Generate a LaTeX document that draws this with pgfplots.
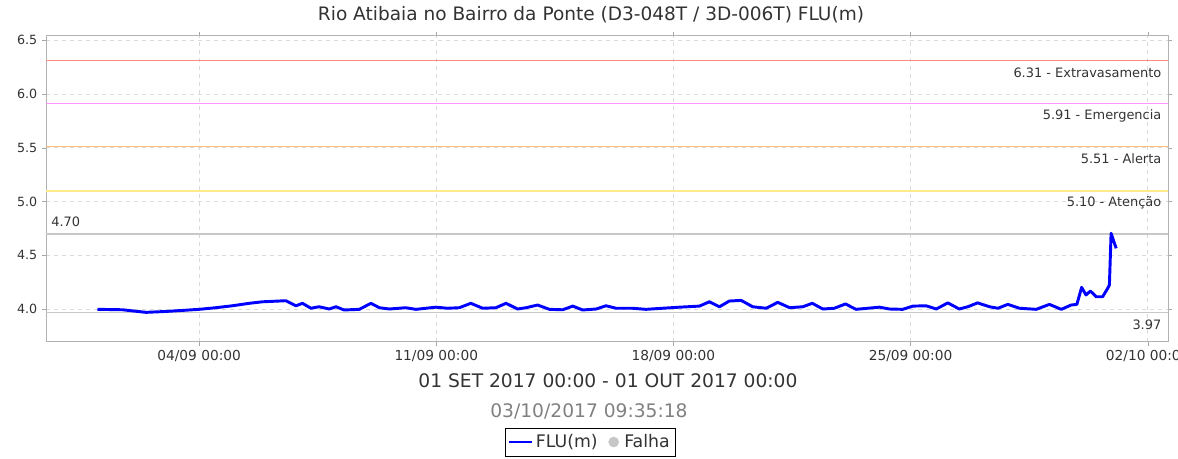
\documentclass[border=0pt]{standalone}
\usepackage{fontspec}
\setmainfont{DejaVu Sans}
\usepackage{pgfplots}
\pgfplotsset{compat=1.18}
\definecolor{lnred}{RGB}{255,140,140}
\definecolor{lnpink}{RGB}{255,150,255}
\definecolor{lnora}{RGB}{255,190,120}
\definecolor{lnyel}{RGB}{255,235,140}
\definecolor{lngray}{RGB}{200,200,200}
\definecolor{txt}{RGB}{51,51,51}
\begin{document}
\begin{tikzpicture}
% whole picture: 1178 x 459 px at 0.75pt per px
\path[use as bounding box] (0,0) rectangle (883.5pt,344.25pt);
\begin{axis}[
    at={(34.5pt,88pt)}, anchor=south west,
    scale only axis,
    width=841.5pt, height=229.5pt,
    xmin=-1.52, xmax=31.6,
    ymin=3.70, ymax=6.54,
    xtick={3,10,17,24,31},
    xticklabels={04/09 00:00,11/09 00:00,18/09 00:00,25/09 00:00,02/10 00:00},
    ytick={4.0,4.5,5.0,5.5,6.0,6.5},
    yticklabel style={/pgf/number format/.cd, fixed, fixed zerofill, precision=1},
    /pgf/number format/assume math mode=true,
    tick label style={font=\fontsize{9.5}{11}\selectfont, text=txt},
    xticklabel style={font=\fontsize{10.3}{12}\selectfont},
    tick align=outside,
    major tick length=3pt,
    tick style={gray!70},
    axis line style={gray!60},
    grid=major,
    grid style={dashed, gray!30},
    legend columns=2,
    legend style={at={(0.4848,-0.328)}, anchor=center, draw=black,
        font=\fontsize{13}{15}\selectfont, text=txt, inner ysep=3pt, inner xsep=2pt,
        /tikz/column 2/.style={column sep=6pt}},
    legend cell align=left,
    clip=false,
]
% threshold lines
\addplot[draw=lnred, line width=1.2pt, forget plot] coordinates {(-1.52,6.31) (31.6,6.31)};
\addplot[draw=lnpink, line width=1.2pt, forget plot] coordinates {(-1.52,5.91) (31.6,5.91)};
\addplot[draw=lnora, line width=1.2pt, forget plot] coordinates {(-1.52,5.51) (31.6,5.51)};
\addplot[draw=lnyel, line width=1.2pt, forget plot] coordinates {(-1.52,5.10) (31.6,5.10)};
\addplot[draw=lngray, line width=1.2pt, forget plot] coordinates {(-1.52,4.70) (31.6,4.70)};
\addplot[draw=lngray, line width=1.2pt, forget plot] coordinates {(-1.52,3.97) (31.6,3.97)};

% FLU(m), days since 01/09/2017 00:00
\addplot[blue, line width=2.2pt, line join=round] coordinates {
(0.00,4.00) (0.74,3.996) (1.43,3.972) (2.0,3.98) (2.51,3.99) (3.0,4.00)
(3.49,4.015) (3.98,4.033) (4.48,4.056) (4.87,4.07) (5.56,4.08) (5.86,4.033)
(6.05,4.056) (6.30,4.01) (6.54,4.024) (6.84,4.003) (7.04,4.024) (7.28,3.994)
(7.73,4.00) (8.07,4.056) (8.32,4.015) (8.61,4.003) (9.1,4.015) (9.4,4.00)
(9.99,4.02) (10.33,4.01) (10.68,4.015) (11.02,4.056) (11.37,4.01) (11.76,4.015)
(12.06,4.056) (12.4,4.003) (12.65,4.015) (12.99,4.04) (13.34,4.00) (13.73,3.996)
(14.03,4.03) (14.32,3.994) (14.72,4.003) (15.01,4.033) (15.31,4.01) (15.8,4.01)
(16.19,4.00) (16.68,4.01) (17.18,4.02) (17.77,4.03) (18.06,4.07) (18.36,4.024)
(18.65,4.077) (19.0,4.083) (19.34,4.024) (19.74,4.01) (20.08,4.065) (20.43,4.015)
(20.82,4.024) (21.1,4.056) (21.41,4.003) (21.75,4.01) (22.08,4.05) (22.39,4.00)
(23.08,4.02) (23.38,4.003) (23.77,4.00) (24.07,4.03) (24.46,4.033) (24.76,4.003)
(25.1,4.06) (25.44,4.003) (25.69,4.024) (25.98,4.06) (26.33,4.024) (26.58,4.01)
(26.87,4.046) (27.22,4.01) (27.71,4.00) (28.1,4.046) (28.45,4.00) (28.74,4.04)
(28.91,4.046) (29.05,4.204) (29.18,4.133) (29.31,4.17) (29.48,4.117) (29.67,4.117)
(29.82,4.195) (29.87,4.226) (29.92,4.706) (29.99,4.64) (30.07,4.566)
};
\addlegendentry{FLU(m)}
\addlegendimage{legend image code/.code={\path[draw=none] (0pt,0pt) -- (10pt,0pt); \fill[gray!45] (4pt,0pt) circle (3.75pt);}}
\addlegendentry{Falha}

% threshold labels
\node[anchor=east, inner sep=0pt, font=\fontsize{9.7}{11}\selectfont, text=txt] at (axis cs:31.41,6.197) {6.31 - Extravasamento};
\node[anchor=east, inner sep=0pt, font=\fontsize{9.7}{11}\selectfont, text=txt] at (axis cs:31.41,5.797) {5.91 - Emergencia};
\node[anchor=east, inner sep=0pt, font=\fontsize{9.7}{11}\selectfont, text=txt] at (axis cs:31.41,5.397) {5.51 - Alerta};
\node[anchor=east, inner sep=0pt, font=\fontsize{9.7}{11}\selectfont, text=txt] at (axis cs:31.41,4.987) {5.10 - Atenção};
\node[anchor=west, inner sep=0pt, font=\fontsize{9.7}{11}\selectfont, text=txt] at (axis cs:-1.37,4.813) {4.70};
\node[anchor=east, inner sep=0pt, font=\fontsize{9.7}{11}\selectfont, text=txt] at (axis cs:31.41,3.857) {3.97};
\end{axis}
\node[font=\fontsize{13.9}{16}\selectfont, text=txt] at (443.25pt,333pt) {Rio Atibaia no Bairro da Ponte (D3-048T / 3D-006T) FLU(m)};
\node[font=\fontsize{14}{16}\selectfont, text=txt] at (456pt,58.5pt) {01 SET 2017 00:00 - 01 OUT 2017 00:00};
\node[font=\fontsize{14}{16}\selectfont, text=gray] at (441.75pt,36pt) {03/10/2017 09:35:18};
\end{tikzpicture}
\end{document}
